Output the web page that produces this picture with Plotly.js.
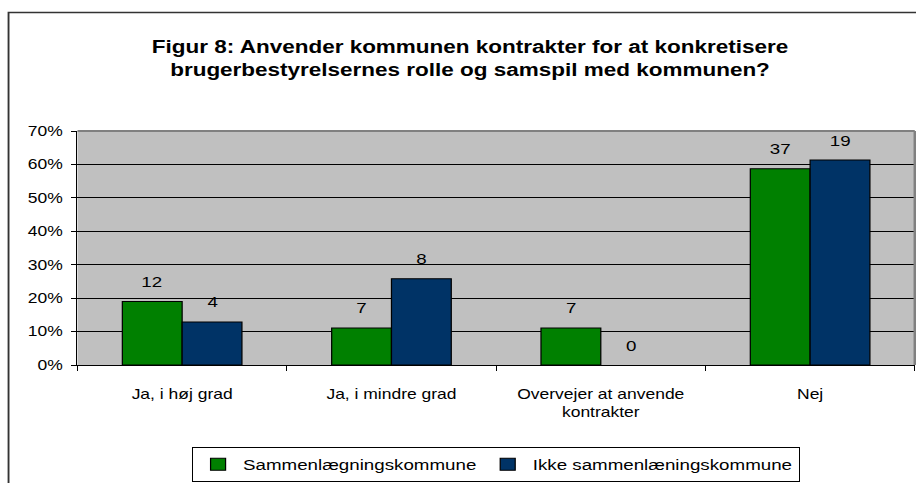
<!DOCTYPE html>
<html>
<head>
<meta charset="utf-8">
<script src="https://cdn.plot.ly/plotly-3.0.1.min.js"></script>
<style>
html,body{margin:0;padding:0;background:#fff;overflow:hidden;}
#chart{width:733px;height:483px;transform:scaleX(1.2497);transform-origin:0 0;}
</style>
</head>
<body>
<div id="chart"></div>
<script>
// Categories (x axis)
const categories = ["Ja, i høj grad", "Ja, i mindre grad", "Overvejer at anvende<br>kontrakter", "Nej"];
// Series names
const seriesNames = ["Sammenlægningskommune", "Ikke sammenlæningskommune"];
// Bar heights (percent of respondents)
const pctSammen = [19.0, 11.1, 11.1, 58.7];
const pctIkke = [12.9, 25.8, 0, 61.3];
// Count labels shown above the bars
const countSammen = [12, 7, 7, 37];
const countIkke = [4, 8, 0, 19];
// Y tick labels
const yTicks = [0, 10, 20, 30, 40, 50, 60, 70];

const FONT = "Liberation Sans, Arial, sans-serif";
const S = 916 / 733; // horizontal stretch of the original picture

const traces = [
  {type: "bar", name: seriesNames[0], x: categories, y: pctSammen,
   marker: {color: "#008000", line: {color: "#000000", width: pctSammen.map(v => v > 0 ? 1 : 0)}}, hoverinfo: "none"},
  {type: "bar", name: seriesNames[1], x: categories, y: pctIkke,
   marker: {color: "#003366", line: {color: "#000000", width: pctIkke.map(v => v > 0 ? 1 : 0)}}, hoverinfo: "none"}
];

const annotations = [];
categories.forEach((c, i) => {
  annotations.push({x: c, y: pctSammen[i], xref: "x", yref: "y", text: String(countSammen[i]),
    showarrow: false, xshift: -30 / S, yshift: 20, yanchor: "middle", font: {family: FONT, size: 15, color: "#000"}});
  annotations.push({x: c, y: pctIkke[i], xref: "x", yref: "y", text: String(countIkke[i]),
    showarrow: false, xshift: 30 / S, yshift: 20, yanchor: "middle", font: {family: FONT, size: 15, color: "#000"}});
});

const layout = {
  width: 733, height: 483,
  margin: {l: 77 / S, r: 1 / S, t: 131, b: 115, pad: 0},
  paper_bgcolor: "#ffffff",
  plot_bgcolor: "#c0c0c0",
  font: {family: FONT, size: 14, color: "#000"},
  title: {
    text: "<b>Figur 8: Anvender kommunen kontrakter for at konkretisere<br>brugerbestyrelsernes rolle og samspil med kommunen?</b>",
    font: {family: FONT, size: 18, color: "#000"},
    x: 470 / 916, xref: "container", xanchor: "center",
    y: 1 - 53 / 483, yref: "container", yanchor: "middle"
  },
  barmode: "group",
  bargap: 0.4286,
  bargroupgap: 0,
  xaxis: {
    type: "category",
    showgrid: false,
    showline: true, linecolor: "#000", linewidth: 1,
    ticks: "outside", ticklen: 5, tickcolor: "#000", tickson: "boundaries",
    tickfont: {family: FONT, size: 14, color: "#000"},
    ticklabelstandoff: 16,
    fixedrange: true
  },
  yaxis: {
    range: [0, 70],
    tickvals: yTicks,
    ticktext: yTicks.map(v => v + "%"),
    showgrid: true, gridcolor: "#000", gridwidth: 1,
    showline: true, linecolor: "#000", linewidth: 1,
    ticks: "outside", ticklen: 5 / S, tickcolor: "#000",
    tickfont: {family: FONT, size: 14, color: "#000"},
    ticklabelstandoff: 4,
    zeroline: false,
    fixedrange: true
  },
  showlegend: true,
  legend: {
    orientation: "h",
    x: 0.5, xanchor: "center", xref: "paper",
    y: -0.35, yanchor: "top", yref: "paper",
    bgcolor: "#fff", bordercolor: "#000", borderwidth: 1,
    font: {family: FONT, size: 15, color: "#000"},
    itemwidth: 30, tracegroupgap: 0
  },
  shapes: [
    // plot area border (top/right in gray)
    {type: "line", xref: "paper", yref: "paper", x0: 0, x1: 1, y0: 1, y1: 1, line: {color: "#808080", width: 2}, layer: "above"},
    {type: "line", xref: "paper", yref: "paper", x0: 1, x1: 1, y0: 0, y1: 1, line: {color: "#808080", width: 2}, layer: "above"},
    // outer chart frame
    {type: "rect", xref: "paper", yref: "paper",
     x0: (8 - 77) / 838, x1: 1.2, y0: -1, y1: (368 - 11) / 237,
     line: {color: "#333", width: 1.5}, fillcolor: "rgba(0,0,0,0)", layer: "above"}
  ],
  annotations: annotations
};

Plotly.newPlot("chart", traces, layout, {displayModeBar: false, staticPlot: true});
</script>
</body>
</html>
